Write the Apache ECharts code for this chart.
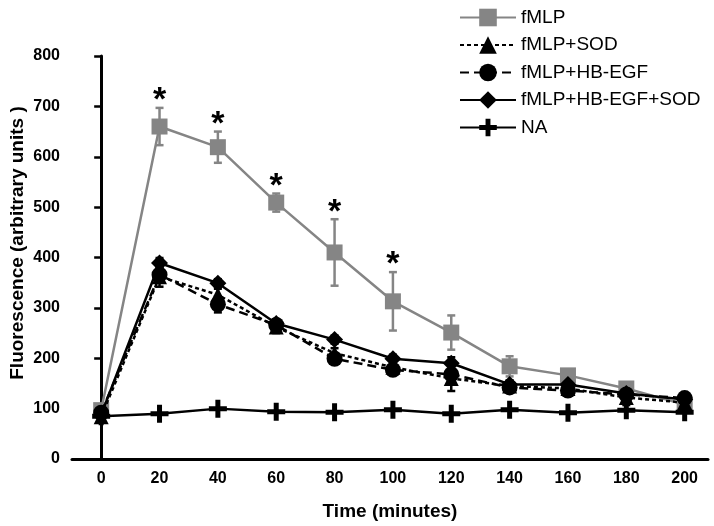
<!DOCTYPE html>
<html>
<head>
<meta charset="utf-8">
<script src="https://cdn.jsdelivr.net/npm/echarts@6/dist/echarts.min.js"></script>
<style>html,body{margin:0;padding:0;background:#fff}#c{width:714px;height:526px}</style>
</head>
<body>
<div id="c"></div>
<script>
const times = [0, 20, 40, 60, 80, 100, 120, 140, 160, 180, 200];
const xTickLabels = ['0','20','40','60','80','100','120','140','160','180','200'];
const fmlp      = [97, 660, 619, 509, 410, 313, 251, 184, 166, 140, 108];
const fmlpErr   = [8, 37, 31, 18, 66, 58, 34, 20, 8, 6, 5];
const sod       = [84, 362, 326, 262, 210, 182, 160, 145, 140, 122, 112];
const sodErr    = [8, 20, 12, 12, 10, 10, 25, 10, 8, 15, 8];
const hbegf     = [92, 366, 307, 266, 199, 177, 168, 142, 136, 128, 121];
const hbegfErr  = [6, 12, 16, 10, 10, 8, 10, 8, 6, 8, 8];
const hbsod     = [88, 389, 349, 269, 237, 199, 190, 148, 148, 130, 118];
const hbsodErr  = [5, 10, 8, 8, 8, 8, 12, 8, 6, 8, 8];
const na        = [85, 90, 100, 94, 93, 98, 90, 98, 92, 97, 93];
const sigTimes  = [20, 40, 60, 80, 100];
const seriesNames = ['fMLP', 'fMLP+SOD', 'fMLP+HB-EGF', 'fMLP+HB-EGF+SOD', 'NA'];

const GREY = '#858585';
const BLACK = '#000000';
const plusPath = 'path://M6.5,0h5v6.5h6.5v5h-6.5v6.5h-5v-6.5h-6.5v-5h6.5z';

function pairs(vals) { return times.map((t, i) => [t, vals[i]]); }
function errData(vals, errs) { return times.map((t, i) => [t, vals[i], errs[i]]); }

function errSeries(vals, errs, color) {
  return {
    type: 'custom',
    z: 1,
    silent: true,
    data: errData(vals, errs),
    renderItem: function (params, api) {
      const x = api.value(0), y = api.value(1), e = api.value(2);
      const top = api.coord([x, y + e]);
      const bot = api.coord([x, y - e]);
      const cw = 4;
      const st = { stroke: color, lineWidth: 2.5 };
      return {
        type: 'group',
        children: [
          { type: 'line', shape: { x1: top[0], y1: top[1], x2: bot[0], y2: bot[1] }, style: st },
          { type: 'line', shape: { x1: top[0] - cw, y1: top[1], x2: top[0] + cw, y2: top[1] }, style: st },
          { type: 'line', shape: { x1: bot[0] - cw, y1: bot[1], x2: bot[0] + cw, y2: bot[1] }, style: st }
        ]
      };
    }
  };
}

function lineSeries(name, vals, color, symbol, size, dash, z) {
  return {
    name: name,
    type: 'line',
    z: z,
    data: pairs(vals),
    symbol: symbol,
    symbolSize: size,
    showAllSymbol: true,
    itemStyle: { color: color, borderWidth: 0 },
    lineStyle: { color: color, width: 2.5, type: dash },
    emphasis: { disabled: true }
  };
}

const chart = echarts.init(document.getElementById('c'), null, { renderer: 'canvas' });
const option = {
  animation: false,
  backgroundColor: '#ffffff',
  grid: { left: 71, right: 6, top: 56, bottom: 66.5, containLabel: false },
  legend: {
    orient: 'vertical',
    left: 454,
    top: 3,
    itemWidth: 56,
    itemHeight: 22,
    itemGap: 8.5,
    textStyle: { fontFamily: 'Liberation Sans, Arial, sans-serif', fontSize: 19, color: '#000' },
    data: seriesNames
  },
  xAxis: {
    type: 'value',
    min: -10,
    max: 208,
    interval: 10,
    name: 'Time (minutes)',
    nameLocation: 'middle',
    nameGap: 43,
    nameMoveOverlap: false,
    nameTextStyle: { fontFamily: 'Liberation Sans, Arial, sans-serif', fontSize: 19, fontWeight: 'bold', color: '#000' },
    axisLine: { onZero: false, lineStyle: { color: '#000', width: 3 } },
    axisTick: { show: false },
    splitLine: { show: false },
    axisLabel: {
      margin: 12,
      fontFamily: 'Liberation Sans, Arial, sans-serif',
      fontSize: 16,
      fontWeight: 'bold',
      color: '#000',
      showMaxLabel: true,
      formatter: function (v) {
        const idx = times.indexOf(Math.round(v));
        return (idx >= 0 && Math.abs(v - times[idx]) < 1e-6) ? xTickLabels[idx] : '';
      }
    }
  },
  yAxis: {
    type: 'value',
    min: 0,
    max: 800,
    interval: 100,
    name: 'Fluorescence (arbitrary units )',
    nameLocation: 'middle',
    nameGap: 45,
    nameMoveOverlap: false,
    nameTextStyle: { fontFamily: 'Liberation Sans, Arial, sans-serif', fontSize: 19, fontWeight: 'bold', color: '#000', padding: [0, 0, 0, 29] },
    axisLine: { show: true, lineStyle: { color: '#000', width: 3 } },
    axisTick: { show: true, inside: false, length: 7, lineStyle: { color: '#000', width: 2.5 } },
    splitLine: { show: false },
    axisLabel: {
      margin: 12,
      fontFamily: 'Liberation Sans, Arial, sans-serif',
      fontSize: 16,
      fontWeight: 'bold',
      color: '#000'
    }
  },
  series: [
    errSeries(fmlp, fmlpErr, GREY),
    errSeries(sod, sodErr, BLACK),
    errSeries(hbegf, hbegfErr, BLACK),
    errSeries(hbsod, hbsodErr, BLACK),
    lineSeries(seriesNames[0], fmlp, GREY, 'rect', 16, 'solid', 2),
    lineSeries(seriesNames[1], sod, BLACK, 'triangle', 15, [4, 3], 3),
    lineSeries(seriesNames[2], hbegf, BLACK, 'circle', 16, [9, 5], 4),
    lineSeries(seriesNames[3], hbsod, BLACK, 'diamond', 17, 'solid', 5),
    lineSeries(seriesNames[4], na, BLACK, plusPath, 18, 'solid', 6),
    {
      type: 'custom',
      z: 7,
      silent: true,
      data: sigTimes.map(t => { const i = times.indexOf(t); return [t, fmlp[i] + fmlpErr[i]]; }),
      renderItem: function (params, api) {
        const p = api.coord([api.value(0), api.value(1)]);
        return {
          type: 'text',
          x: p[0],
          y: p[1] - 7,
          style: {
            text: '*',
            fontFamily: 'Liberation Sans, Arial, sans-serif',
            fontSize: 34,
            fontWeight: 'bold',
            fill: '#000',
            align: 'center',
            verticalAlign: 'middle'
          }
        };
      }
    }
  ]
};
chart.setOption(option);
</script>
</body>
</html>
